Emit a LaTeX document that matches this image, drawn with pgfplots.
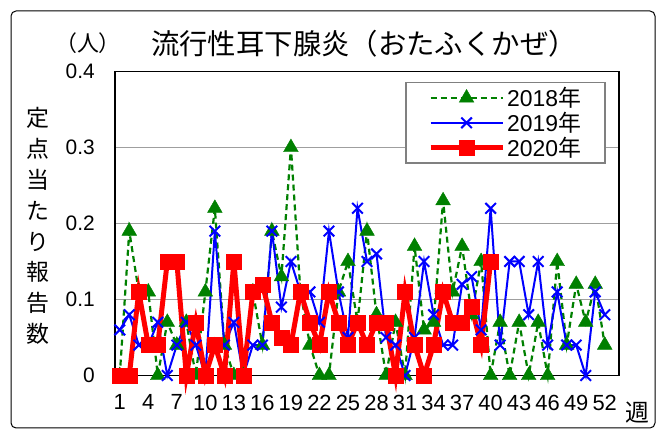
\documentclass[border=0pt]{standalone}
\usepackage{fontspec}
\setmainfont{Liberation Sans}
\newfontfamily\jp{Noto Sans CJK JP}
\usepackage{pgfplots}
\pgfplotsset{compat=1.18}
\definecolor{g18}{RGB}{0,128,0}
\definecolor{b19}{RGB}{0,0,255}
\definecolor{r20}{RGB}{255,0,0}

% weekly reports per sentinel
\pgfplotstableread{
w v
1 0
2 0.19
3 0.11
4 0.11
5 0
6 0.07
7 0.04
8 0.07
9 0
10 0.11
11 0.22
12 0.04
13 0
14 0
15 0.11
16 0.04
17 0.19
18 0.13
19 0.30
20 0.11
21 0.04
22 0
23 0
24 0.11
25 0.15
26 0.07
27 0.19
28 0.08
29 0
30 0.07
31 0
32 0.17
33 0.06
34 0.07
35 0.23
36 0.11
37 0.17
38 0.08
39 0.15
40 0
41 0.07
42 0
43 0.07
44 0
45 0.07
46 0
47 0.15
48 0.04
49 0.12
50 0.07
51 0.12
52 0.04
}\yeara

\pgfplotstableread{
w v
1 0.06
2 0.08
3 0.04
4 0.04
5 0.07
6 0
7 0.04
8 0.07
9 0.04
10 0
11 0.19
12 0.04
13 0.07
14 0
15 0.04
16 0.04
17 0.19
18 0.09
19 0.15
20 0.11
21 0.11
22 0.07
23 0.19
24 0.11
25 0.05
26 0.22
27 0.15
28 0.16
29 0.05
30 0.04
31 0
32 0.05
33 0.15
34 0.08
35 0.04
36 0.04
37 0.12
38 0.13
39 0.06
40 0.22
41 0.04
42 0.15
43 0.15
44 0.08
45 0.15
46 0.04
47 0.11
48 0.04
49 0.04
50 0
51 0.11
52 0.08
}\yearb

\pgfplotstableread{
w v
1 0
2 0
3 0.11
4 0.04
5 0.04
6 0.15
7 0.15
8 0
9 0.07
10 0
11 0.04
12 0
13 0.15
14 0
15 0.11
16 0.12
17 0.07
18 0.05
19 0.04
20 0.11
21 0.07
22 0.04
23 0.11
24 0.07
25 0.04
26 0.07
27 0.04
28 0.07
29 0.07
30 0
31 0.11
32 0.04
33 0
34 0.04
35 0.11
36 0.07
37 0.07
38 0.09
39 0.04
40 0.15
}\yearc

\begin{document}
\begin{tikzpicture}[x=1bp,y=1bp]
\path (0,0) rectangle (665,435);
\draw[line width=1bp, rounded corners=5bp] (11,7) rectangle (655,424);

\node[font=\jp\fontsize{28.5}{28.5}\selectfont] at (364,391) {流行性耳下腺炎（おたふくかぜ）};
\node[font=\jp\fontsize{22}{22}\selectfont] at (88,392) {（人）};
\node[font=\jp\fontsize{23}{31}\selectfont, align=center] at (38,209) {定\\点\\当\\た\\り\\報\\告\\数};
\node[font=\jp\fontsize{24}{24}\selectfont] at (637,22) {週};

\begin{axis}[
    at={(115bp,59.5bp)}, anchor=south west,
    width=504bp, height=304bp, scale only axis,
    xmin=0.5, xmax=53.5, ymin=0, ymax=0.4,
    xtick={1,4,7,10,13,16,19,22,25,28,31,34,37,40,43,46,49,52},
    xticklabels={1,4,7,10,13,16,19,22,25,28,31,34,37,40,43,46,49,52},
    ytick={0,0.1,0.2,0.3,0.4},
    yticklabels={0,0.1,0.2,0.3,0.4},
    major tick length=0pt,
    ymajorgrids,
    grid style={draw=gray!75, line width=1.5bp},
    axis line style={line width=1.5bp},
    yticklabel style={font=\fontsize{21}{21}\selectfont, anchor=east, inner sep=0pt, xshift=-20bp},
    xticklabel style={font=\fontsize{22}{22}\selectfont, anchor=north, inner sep=0pt, yshift=-19bp},
    clip=false,
    legend style={at={(0.576,0.966)}, anchor=north west, draw=gray,
        line width=1.5bp, fill=white, font=\fontsize{23}{23}\selectfont,
        inner xsep=22bp, inner ysep=3bp, row sep=0bp},
    legend cell align=left,
    legend image code/.code={\draw[mark repeat=2,mark phase=2,#1]
        plot coordinates {(0bp,0bp)(36bp,0bp)(72bp,0bp)};},
]
\addplot[g18, line width=2.2bp, dash pattern=on 6bp off 4bp,
    mark=triangle*, mark size=8.5bp, mark options={solid, line width=0.4bp}]
    table[x=w, y=v] {\yeara};
\addlegendentry{2018{\jp 年}}
\addplot[b19, line width=2bp, mark=x, mark size=7.5bp]
    table[x=w, y=v] {\yearb};
\addlegendentry{2019{\jp 年}}
\addplot[r20, line width=5bp, mark=square*, mark size=7.5bp,
    mark options={line width=0.4bp}]
    table[x=w, y=v] {\yearc};
\addlegendentry{2020{\jp 年}}
\end{axis}
\end{tikzpicture}
\end{document}
